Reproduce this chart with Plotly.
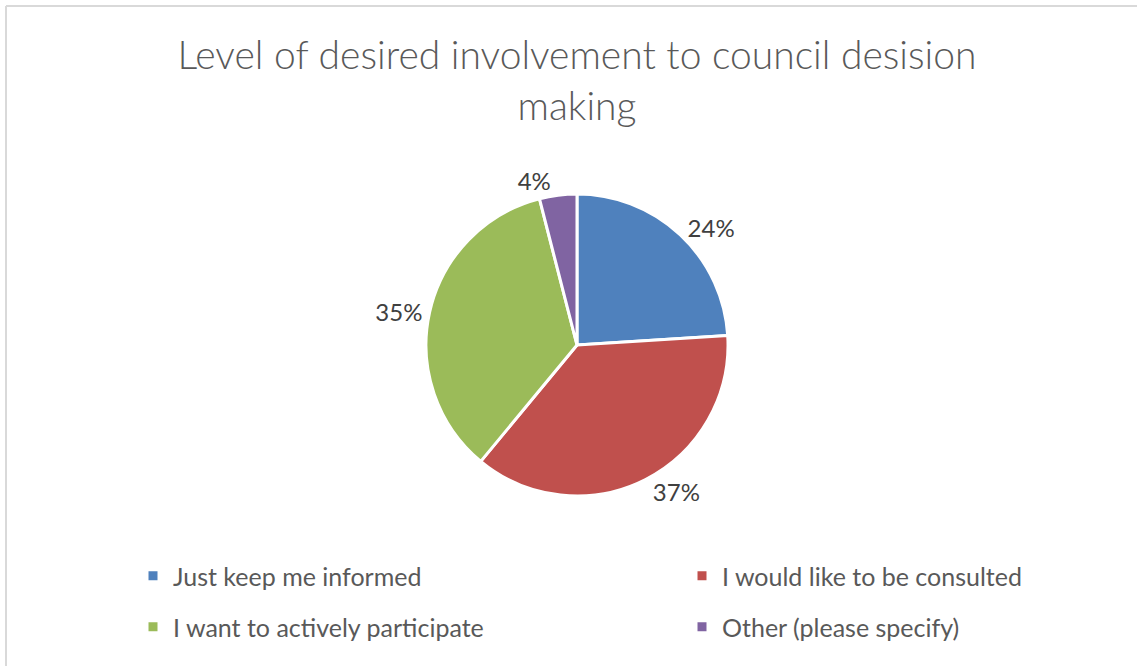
import plotly.graph_objects as go

categories = ["Just keep me informed", "I would like to be consulted",
              "I want to actively participate", "Other (please specify)"]
values = [24, 37, 35, 4]
colors = ["#4F81BD", "#C0504D", "#9BBB59", "#8064A2"]

W, H = 1137, 666
cx, cy, r = 577, 345, 151

fig = go.Figure()
fig.add_trace(go.Pie(
    labels=categories, values=values, sort=False, direction="clockwise",
    rotation=0,
    marker=dict(colors=colors, line=dict(color="white", width=3)),
    textinfo="percent", textposition="outside",
    texttemplate="%{percent:.0%}",
    textfont=dict(family="Lato", size=24, color="#404040"),
    showlegend=False,
    domain=dict(x=[(cx - r) / W, (cx + r) / W], y=[1 - (cy + r) / H, 1 - (cy - r) / H]),
))

# legend entries: one legend per entry, laid out in two rows and two columns
legend_ids = ["legend", "legend2", "legend3", "legend4"]
legend_pos = [(133, 576), (682, 576), (133, 627), (682, 627)]
for lab, col, lid in zip(categories, colors, legend_ids):
    fig.add_trace(go.Scatter(
        x=[None], y=[None], mode="markers", name=lab,
        marker=dict(symbol="square", size=9, color=col),
        legend=lid,
    ))

leg_common = dict(orientation="h", xanchor="left", yanchor="middle",
                  font=dict(family="Lato", size=25, color="#595959"),
                  bgcolor="rgba(0,0,0,0)", itemclick=False, itemdoubleclick=False)

legends = {lid: dict(x=px / W, y=1 - py / H, **leg_common)
           for lid, (px, py) in zip(legend_ids, legend_pos)}

fig.update_layout(
    width=W, height=H,
    margin=dict(l=0, r=0, t=0, b=0),
    paper_bgcolor="white", plot_bgcolor="white",
    title=dict(text="Level of desired involvement to council desision<br>making",
               x=577 / W, xanchor="center", y=1 - 69 / H, yanchor="middle",
               font=dict(family="Lato", size=39, color="#595959", weight=300)),
    xaxis=dict(visible=False), yaxis=dict(visible=False),
    shapes=[
        dict(type="line", xref="paper", yref="paper", x0=6 / W, x1=1, y0=1 - 6 / H, y1=1 - 6 / H,
             line=dict(color="#D9D9D9", width=2)),
        dict(type="line", xref="paper", yref="paper", x0=6 / W, x1=6 / W, y0=0, y1=1 - 6 / H,
             line=dict(color="#D9D9D9", width=2)),
    ],
    **legends,
)

fig.write_html("out.html")
